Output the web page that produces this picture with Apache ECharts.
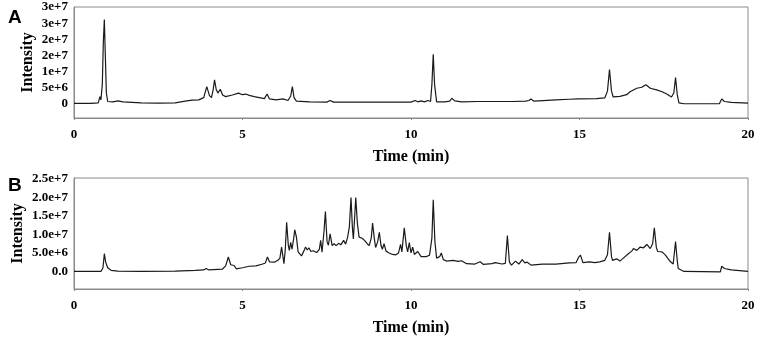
<!DOCTYPE html>
<html><head><meta charset="utf-8">
<script src="https://cdn.jsdelivr.net/npm/echarts@6/dist/echarts.min.js"></script>
<style>html,body{margin:0;padding:0;background:#fff}#c{width:760px;height:337px}</style>
</head><body><div id="c"></div>
<script>
// Panel A chromatogram (time in min, intensity)
const timesA = [0,0.5,0.72,0.77,0.8,0.84,0.87,0.9,0.93,0.96,1.0,1.05,1.15,1.31,1.45,2.0,2.5,3.0,3.3,3.5,3.7,3.85,3.94,4.02,4.08,4.13,4.17,4.22,4.27,4.34,4.41,4.5,4.7,4.88,5.0,5.1,5.2,5.35,5.5,5.65,5.73,5.8,6.0,6.2,6.35,6.43,6.48,6.53,6.6,7.0,7.5,7.6,7.7,8.0,9.0,10.0,10.12,10.2,10.3,10.4,10.5,10.58,10.62,10.66,10.7,10.76,11.0,11.15,11.21,11.3,11.5,12.0,13.0,13.4,13.5,13.56,13.65,14.3,14.7,14.95,15.5,15.75,15.83,15.89,15.95,16.0,16.2,16.4,16.5,16.7,16.85,16.97,17.1,17.29,17.45,17.59,17.73,17.8,17.85,17.9,17.95,18.1,19.15,19.22,19.3,19.5,20.0];
const intensityA = [0.2e6,0.2e6,0.4e6,2.3e6,1.3e6,6e6,1.9e7,2.61e7,1.5e7,3.5e6,0.8e6,0.6e6,0.7e6,1.0e6,0.7e6,0.4e6,0.3e6,0.4e6,0.9e6,1.2e6,1.3e6,2.0e6,5.4e6,2.6e6,2.0e6,4.5e6,7.5e6,4.5e6,3.4e6,4.6e6,2.8e6,2.3e6,2.8e6,3.4e6,2.9e6,3.1e6,2.7e6,2.3e6,2.0e6,1.7e6,3.1e6,1.6e6,1.3e6,1.6e6,1.1e6,2.5e6,5.4e6,2.0e6,0.9e6,0.7e6,0.6e6,1.1e6,0.6e6,0.6e6,0.6e6,0.6e6,1.1e6,0.7e6,1.0e6,0.7e6,1.1e6,0.8e6,6e6,1.54e7,6e6,0.7e6,0.7e6,0.9e6,1.8e6,1.0e6,0.7e6,0.8e6,0.8e6,0.9e6,1.1e6,1.6e6,0.9e6,1.3e6,1.5e6,1.6e6,1.7e6,1.9e6,4e6,1.07e7,4e6,2.2e6,2.4e6,2.9e6,3.8e6,4.9e6,5.2e6,6.0e6,4.9e6,4.4e6,3.8e6,3.1e6,2.2e6,3.5e6,8.2e6,3e6,0.4e6,0.1e6,0.1e6,1.6e6,0.8e6,0.5e6,0.3e6];

// Panel B chromatogram
const timesB = [0,0.8,0.86,0.9,0.94,1.0,1.1,1.3,2.0,3.0,3.6,3.85,3.92,4.0,4.4,4.5,4.58,4.65,4.7,4.75,4.82,5.0,5.2,5.4,5.6,5.68,5.74,5.8,5.95,6.05,6.11,6.16,6.23,6.27,6.31,6.36,6.39,6.43,6.47,6.52,6.55,6.6,6.65,6.75,6.82,6.87,6.92,6.97,7.03,7.1,7.2,7.28,7.32,7.36,7.42,7.46,7.51,7.55,7.6,7.66,7.72,7.78,7.85,7.92,8.0,8.06,8.12,8.17,8.22,8.26,8.29,8.33,8.36,8.41,8.46,8.55,8.62,8.7,8.76,8.82,8.86,8.91,8.95,9.01,9.06,9.11,9.15,9.2,9.26,9.35,9.45,9.55,9.63,9.69,9.73,9.8,9.86,9.9,9.95,10.0,10.05,10.1,10.2,10.3,10.45,10.55,10.62,10.66,10.71,10.76,10.85,10.9,10.96,11.05,11.25,11.4,11.5,11.65,11.9,12.05,12.15,12.4,12.5,12.7,12.8,12.86,12.92,12.98,13.1,13.2,13.3,13.38,13.45,13.5,13.56,13.9,14.3,14.7,14.9,14.97,15.03,15.1,15.3,15.45,15.6,15.75,15.83,15.89,15.95,15.98,16.1,16.2,16.3,16.45,16.55,16.6,16.7,16.8,16.9,17.0,17.1,17.17,17.22,17.28,17.32,17.45,17.55,17.7,17.78,17.85,17.9,17.93,18.1,19.18,19.22,19.3,19.5,20.0];
const intensityB = [0,0,1.0e6,4.8e6,2.5e6,1.0e6,0.3e6,0.1e6,0,0.1e6,0.3e6,0.4e6,0.8e6,0.4e6,0.6e6,1.5e6,3.9e6,1.8e6,1.4e6,1.6e6,0.7e6,1.0e6,1.4e6,1.5e6,2.0e6,2.3e6,3.9e6,2.6e6,2.5e6,3.0e6,3.6e6,6.6e6,2.1e6,6e6,1.33e7,7e6,5.7e6,7.9e6,6.0e6,9e6,1.13e7,9.3e6,5.3e6,4.2e6,5.5e6,6.6e6,5.8e6,6.4e6,5.4e6,5.6e6,5.1e6,6e6,8.4e6,5.2e6,1.1e7,1.62e7,8e6,7.1e6,1.02e7,7e6,7.5e6,7.0e6,7.6e6,7.2e6,8.4e6,7.4e6,9.3e6,1.2e7,2.0e7,1.2e7,8.8e6,1.5e7,2.0e7,1.29e7,9.3e6,9.0e6,8.4e6,7.5e6,7.0e6,9e6,1.31e7,9e6,6.5e6,8e6,1.06e7,7e6,6.0e6,7.5e6,5.5e6,5.0e6,4.6e6,4.5e6,5.0e6,7.3e6,5.3e6,1.18e7,7e6,5.3e6,7.8e6,5.0e6,6.6e6,4.6e6,5.4e6,4.0e6,4.0e6,4.4e6,9e6,1.94e7,8e6,3.6e6,4.0e6,5.0e6,3.2e6,2.8e6,3.0e6,2.7e6,2.9e6,2.1e6,2.0e6,2.6e6,1.9e6,2.1e6,2.4e6,2.0e6,2.2e6,9.7e6,2.5e6,1.7e6,2.8e6,2.0e6,3.2e6,2.3e6,2.5e6,2.2e6,1.7e6,2.0e6,2.0e6,2.3e6,2.4e6,3.8e6,4.4e6,2.4e6,2.6e6,2.4e6,2.6e6,3.0e6,4.5e6,1.06e7,4e6,3.0e6,3.4e6,2.8e6,3.6e6,4.8e6,5.5e6,6.2e6,5.7e6,6.6e6,6.4e6,7.3e6,6.2e6,7.5e6,1.18e7,6.5e6,5.4e6,5.3e6,4.4e6,2.6e6,2.0e6,8.1e6,3e6,0.8e6,0,-0.1e6,1.4e6,0.8e6,0.4e6,0];

const xTicks = [0,5,10,15,20];
const yTickValuesA = [0,5e6,1e7,1.5e7,2e7,2.5e7,3e7];
const yTickLabelsA = ['0','5e+6','1e+7','2e+7','2e+7','3e+7','3e+7'];
const yTickValuesB = [0,5e6,1e7,1.5e7,2e7,2.5e7];
const yTickLabelsB = ['0.0','5.0e+6','1.0e+7','1.5e+7','2.0e+7','2.5e+7'];
const panelLabels = ['A','B'];

const serif = '"Liberation Serif", "DejaVu Serif", serif';
const gray = '#8a8a8a';
function lab(vals, labels){
  return function(v){
    for (let i=0;i<vals.length;i++){ if (Math.abs(vals[i]-v) < 1) return labels[i]; }
    return '';
  };
}
function xAxis(gi){
  return {
    gridIndex: gi, type:'value', min:xTicks[0], max:xTicks[xTicks.length-1], interval:5,
    axisLine:{show:true, onZero:false, lineStyle:{color:gray,width:1}},
    axisTick:{show:true, length:2, lineStyle:{color:gray}},
    splitLine:{show:false},
    axisLabel:{margin:10, color:'#000', fontFamily:serif, fontWeight:'bold', fontSize:13},
    name:'Time (min)', nameLocation:'middle', nameGap:31, nameMoveOverlap:false,
    nameTextStyle:{color:'#000', fontFamily:serif, fontWeight:'bold', fontSize:16}
  };
}
function yAxis(gi, min, max, vals, labels, gap){
  return {
    gridIndex: gi, type:'value', min:min, max:max,
    axisLine:{show:true, onZero:false, lineStyle:{color:gray,width:1}},
    axisTick:{show:false},
    splitLine:{show:false},
    axisLabel:{margin:6, color:'#000', fontFamily:serif, fontWeight:'bold', fontSize:13,
      customValues: vals, formatter: lab(vals, labels)},
    name:'Intensity', nameLocation:'middle', nameGap:gap, nameMoveOverlap:false,
    nameTextStyle:{color:'#000', fontFamily:serif, fontWeight:'bold', fontSize:16}
  };
}
const chart = echarts.init(document.getElementById('c'), null, {renderer:'canvas'});
chart.setOption({
  animation:false,
  backgroundColor:'#fff',
  title: [
    {text:panelLabels[0], left:3, top:3, textStyle:{fontFamily:'"Liberation Sans", Arial, sans-serif', fontWeight:'bold', fontSize:19, color:'#000'}},
    {text:panelLabels[1], left:3, top:171, textStyle:{fontFamily:'"Liberation Sans", Arial, sans-serif', fontWeight:'bold', fontSize:19, color:'#000'}}
  ],
  grid: [
    {left:74, top:7, width:674, height:111, show:true, borderColor:gray, borderWidth:1, backgroundColor:'transparent', containLabel:false, outerBoundsMode:'none'},
    {left:74, top:178, width:674, height:111, show:true, borderColor:gray, borderWidth:1, backgroundColor:'transparent', containLabel:false, outerBoundsMode:'none'}
  ],
  xAxis: [xAxis(0), xAxis(1)],
  yAxis: [
    yAxis(0, -4.3e6, 3e7, yTickValuesA, yTickLabelsA, 38),
    yAxis(1, -4.76e6, 2.53e7, yTickValuesB, yTickLabelsB, 48)
  ],
  series: [
    {type:'line', xAxisIndex:0, yAxisIndex:0, showSymbol:false, symbol:'none',
     lineStyle:{color:'#1a1a1a', width:1.2}, data: timesA.map((t,i)=>[t,intensityA[i]])},
    {type:'line', xAxisIndex:1, yAxisIndex:1, showSymbol:false, symbol:'none',
     lineStyle:{color:'#1a1a1a', width:1.2}, data: timesB.map((t,i)=>[t,intensityB[i]])}
  ]
});
</script></body></html>
